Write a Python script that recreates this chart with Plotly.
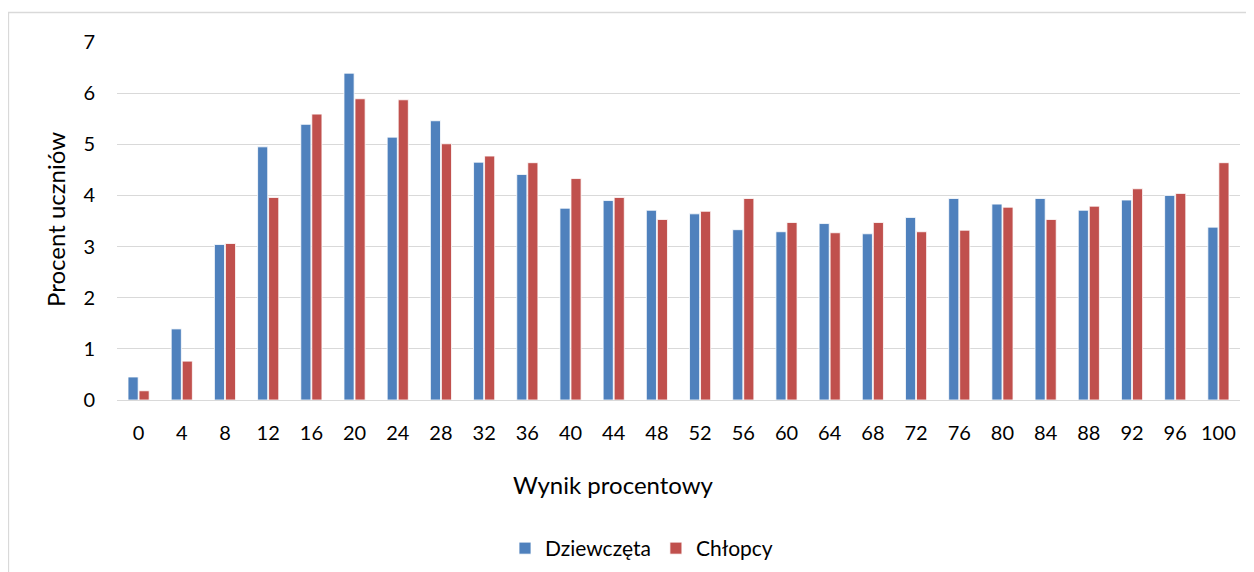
import plotly.graph_objects as go

categories = ["0", "4", "8", "12", "16", "20", "24", "28", "32", "36", "40", "44", "48",
              "52", "56", "60", "64", "68", "72", "76", "80", "84", "88", "92", "96", "100"]
dziewczeta = [0.45, 1.39, 3.04, 4.95, 5.39, 6.39, 5.14, 5.46, 4.65, 4.41, 3.75, 3.90, 3.71,
              3.64, 3.33, 3.29, 3.45, 3.25, 3.57, 3.94, 3.83, 3.94, 3.71, 3.91, 4.00, 3.38]
chlopcy = [0.18, 0.76, 3.06, 3.96, 5.59, 5.89, 5.87, 5.01, 4.77, 4.64, 4.33, 3.96, 3.53,
           3.69, 3.94, 3.47, 3.27, 3.47, 3.29, 3.32, 3.77, 3.53, 3.79, 4.13, 4.04, 4.64]
y_ticks = [0, 1, 2, 3, 4, 5, 6, 7]

FONT = "Lato"
OFF = 8  # default page body margin
W, H = 1254 - OFF, 572 - OFF
L, R, T, B = 117 - OFF, 14, 42 - OFF, 172
pw, ph = W - L - R, H - T - B

def px_x(x):
    return (x - OFF - L) / pw

def px_y(y):
    return (H - B - (y - OFF)) / ph

fig = go.Figure()
fig.add_trace(go.Bar(x=categories, y=dziewczeta, name="Dziewczęta",
                     marker=dict(color="#4F81BD", line=dict(color="#FFFFFF", width=0.8))))
fig.add_trace(go.Bar(x=categories, y=chlopcy, name="Chłopcy",
                     marker=dict(color="#C0504D", line=dict(color="#FFFFFF", width=0.8))))

fig.update_layout(
    width=W, height=H,
    margin=dict(l=L, r=R, t=T, b=B, pad=0, autoexpand=False),
    paper_bgcolor="white", plot_bgcolor="white",
    barmode="group", bargap=0.49, bargroupgap=0.08,
    font=dict(family=FONT, size=20, color="#000000"),
    xaxis=dict(type="category", showgrid=False, zeroline=False, showline=False, automargin=False,
               tickfont=dict(family=FONT, size=20), ticklabelstandoff=19),
    yaxis=dict(range=[0, 7], tickvals=y_ticks, showgrid=True, gridcolor="#D9D9D9", automargin=False,
               gridwidth=1.3, zeroline=True, zerolinecolor="#D9D9D9", zerolinewidth=1.3,
               showline=False, tickfont=dict(family=FONT, size=20), ticklabelstandoff=21),
    legend=dict(orientation="h", x=px_x(505), y=px_y(528), xanchor="left", yanchor="top",
                font=dict(family=FONT, size=21), traceorder="normal",
                itemwidth=30, entrywidth=0, bgcolor="rgba(0,0,0,0)"),
    showlegend=True,
    shapes=[dict(type="rect", xref="paper", yref="paper",
                 x0=px_x(8.5), x1=px_x(1250.5), y0=px_y(12.5), y1=px_y(580),
                 line=dict(color="#D9D9D9", width=1.3), fillcolor="rgba(0,0,0,0)", layer="below")],
    annotations=[
        dict(text="Wynik procentowy", xref="paper", yref="paper", x=px_x(613), y=px_y(485),
             xanchor="center", yanchor="middle", showarrow=False,
             font=dict(family=FONT, size=24, color="#000000")),
        dict(text="Procent uczniów", xref="paper", yref="paper", x=px_x(55), y=px_y(220),
             xanchor="center", yanchor="middle", showarrow=False, textangle=-90,
             font=dict(family=FONT, size=24, color="#000000")),
    ],
)

fig.write_html("out.html")
